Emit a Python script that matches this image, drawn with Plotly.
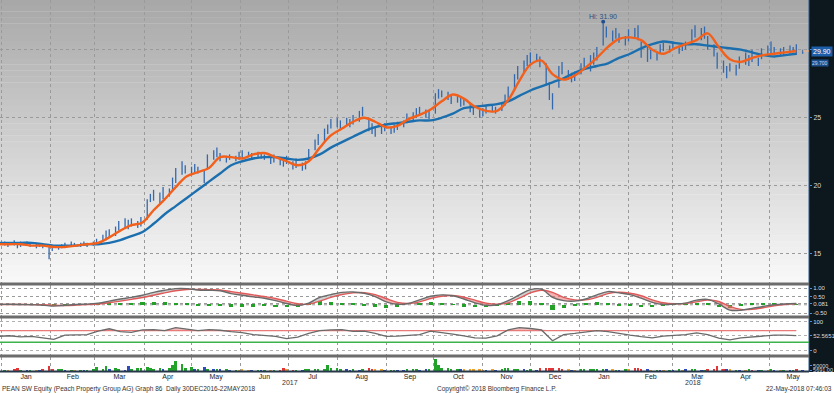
import numpy as np
import pandas as pd
import plotly.graph_objects as go

# ---------------- data ----------------
# price bars, one every second business day from 30-Dec-2016 to 22-May-2018
bar_low = [
    15.5, 15.6, 15.5, 15.6, 15.4, 15.5, 15.6, 15.5, 15.4, 15.5,
    15.4, 14.6, 15.2, 15.3, 15.4, 15.5, 15.5, 15.6, 15.5, 15.6,
    15.5, 15.6, 15.7, 15.9, 16.0, 16.2, 16.3, 16.7, 16.9, 16.8,
    17.0, 16.9, 17.0, 17.5, 18.8, 18.9, 18.7, 19.0, 19.2, 19.6,
    20.2, 20.8, 20.9, 20.8, 21.0, 20.9, 20.2, 21.2, 21.9, 22.1,
    21.8, 21.7, 21.9, 21.8, 21.9, 22.0, 22.1, 22.0, 22.1, 22.0,
    21.9, 21.6, 21.7, 21.5, 21.4, 21.6, 21.2, 21.3, 21.1, 21.2,
    21.9, 22.6, 23.0, 23.3, 23.8, 24.2, 24.3, 24.1, 24.4, 24.3,
    24.5, 24.7, 25.1, 24.0, 23.8, 23.6, 23.8, 24.0, 23.8, 23.9,
    24.1, 24.3, 24.6, 24.8, 25.0, 25.2, 25.0, 24.9, 25.3, 26.4,
    26.5, 26.3, 26.0, 26.1, 25.8, 25.9, 25.4, 25.2, 25.0, 25.1,
    25.3, 25.4, 25.3, 25.5, 25.9, 26.4, 27.0, 27.8, 28.3, 28.8,
    29.0, 29.1, 28.7, 27.4, 26.3, 25.6, 27.2, 28.2, 27.8, 27.6,
    27.7, 28.2, 28.5, 28.4, 28.9, 29.2, 30.3, 30.9, 30.6, 30.8,
    30.5, 30.3, 30.6, 30.8, 30.7, 29.4, 29.1, 29.3, 29.2, 29.7,
    29.9, 29.8, 30.0, 29.7, 29.9, 30.0, 30.5, 30.9, 30.7, 30.8,
    30.0, 29.5, 28.6, 28.3, 27.9, 28.4, 28.1, 28.6, 28.9, 28.8,
    29.1, 28.8, 29.3, 29.5, 29.6, 29.7, 29.5, 29.6, 29.7, 29.8,
    29.6, 29.7,
]
bar_high = [
    15.9, 15.9, 15.8, 16.0, 15.8, 15.9, 15.9, 15.8, 15.8, 15.7,
    15.7, 15.5, 15.6, 15.6, 15.7, 15.8, 15.9, 15.8, 15.8, 15.9,
    15.8, 15.9, 16.1, 16.4, 16.7, 16.8, 17.0, 17.4, 17.6, 17.5,
    17.6, 17.4, 17.7, 19.0, 19.4, 19.7, 19.5, 19.9, 19.8, 20.6,
    21.3, 21.8, 21.5, 21.4, 21.6, 21.4, 21.2, 22.3, 22.6, 22.8,
    22.4, 22.2, 22.3, 22.2, 22.5, 22.6, 22.5, 22.4, 22.5, 22.4,
    22.3, 22.1, 22.3, 22.0, 21.9, 22.2, 21.8, 22.0, 21.7, 21.8,
    22.7, 23.4, 23.8, 24.2, 24.5, 24.9, 25.0, 24.8, 25.0, 24.9,
    25.2, 25.5, 25.8, 25.0, 24.6, 24.3, 24.5, 24.6, 24.3, 24.5,
    24.7, 24.8, 25.3, 25.4, 25.7, 25.8, 25.6, 25.5, 26.8, 27.1,
    27.0, 26.9, 26.6, 26.7, 26.5, 26.4, 26.0, 25.8, 25.6, 25.7,
    25.9, 26.0, 25.8, 26.0, 26.7, 27.3, 28.2, 28.8, 29.2, 29.6,
    29.8, 29.7, 29.5, 29.0, 27.6, 26.8, 28.8, 29.1, 28.5, 28.3,
    28.4, 29.0, 29.4, 29.6, 29.8, 30.2, 31.9, 31.7, 31.4, 31.6,
    31.2, 31.0, 31.5, 31.6, 31.8, 30.6, 30.2, 30.0, 29.9, 30.4,
    30.5, 30.3, 30.5, 30.3, 30.4, 30.6, 31.5, 31.8, 31.6, 31.7,
    31.0, 30.4, 29.8, 29.2, 28.8, 29.0, 28.9, 29.5, 29.8, 29.6,
    30.0, 29.4, 30.1, 30.3, 30.6, 30.2, 30.1, 30.2, 30.3, 30.2,
    30.4, 30.0,
]
last_price = 29.90

# weekly (Friday) readings of the two moving averages and indicators
ma_fast = [
    15.7, 15.7, 15.7, 15.6, 15.6, 15.5, 15.5, 15.6, 15.7, 15.8,
    16.2, 16.7, 17.1, 17.3, 18.2, 19.0, 19.9, 20.7, 21.0, 21.3,
    22.1, 22.1, 22.0, 22.3, 22.4, 22.1, 21.8, 21.5, 21.8, 22.8,
    23.7, 24.2, 24.7, 25.0, 24.7, 24.3, 24.4, 24.9, 25.2, 25.6,
    26.2, 26.7, 26.4, 25.8, 25.5, 25.5, 26.3, 27.7, 28.9, 29.2,
    28.2, 27.8, 28.1, 28.7, 29.4, 30.2, 30.8, 30.9, 30.7, 30.0,
    29.7, 30.1, 30.4, 30.7, 31.2, 30.2, 29.3, 29.1, 29.4, 29.6,
    29.7, 29.8, 29.9,
]
ma_slow = [
    15.8, 15.8, 15.8, 15.8, 15.7, 15.6, 15.6, 15.6, 15.7, 15.7,
    15.8, 16.0, 16.3, 16.6, 17.2, 17.9, 18.5, 19.1, 19.7, 20.3,
    20.9, 21.5, 21.8, 22.0, 22.1, 22.1, 22.0, 21.9, 22.0, 22.3,
    22.8, 23.2, 23.6, 24.0, 24.3, 24.5, 24.6, 24.7, 24.8, 24.8,
    25.0, 25.3, 25.7, 25.8, 25.9, 26.0, 26.2, 26.6, 27.0, 27.3,
    27.6, 27.9, 28.3, 28.6, 28.8, 29.0, 29.4, 29.7, 30.1, 30.4,
    30.6, 30.5, 30.4, 30.4, 30.3, 30.2, 30.1, 30.0, 29.8, 29.6,
    29.5, 29.6, 29.7,
]
macd_line = [
    0.02, 0.03, 0.02, 0.00, -0.02, -0.08, -0.03, 0.02, 0.04, 0.10,
    0.22, 0.35, 0.45, 0.58, 0.75, 0.88, 0.98, 0.98, 0.90, 0.88,
    0.85, 0.68, 0.58, 0.48, 0.40, 0.25, 0.08, -0.05, 0.10, 0.45,
    0.62, 0.75, 0.78, 0.70, 0.50, 0.18, 0.03, 0.08, 0.30, 0.52,
    0.60, 0.55, 0.35, 0.12, -0.03, 0.00, 0.25, 0.60, 0.92, 0.95,
    0.45, 0.25, 0.22, 0.35, 0.60, 0.80, 0.72, 0.62, 0.40, 0.15,
    0.02, 0.05, 0.10, 0.28, 0.33, 0.05, -0.32, -0.33, -0.22, -0.10,
    0.00, 0.05, 0.081,
]
macd_signal = [
    0.02, 0.02, 0.02, 0.01, 0.00, -0.03, -0.04, -0.02, 0.01, 0.05,
    0.12, 0.22, 0.33, 0.44, 0.58, 0.72, 0.85, 0.93, 0.93, 0.92,
    0.90, 0.80, 0.70, 0.60, 0.50, 0.38, 0.22, 0.06, 0.04, 0.22,
    0.45, 0.62, 0.72, 0.74, 0.62, 0.38, 0.15, 0.08, 0.18, 0.38,
    0.52, 0.56, 0.46, 0.28, 0.10, 0.03, 0.12, 0.40, 0.72, 0.88,
    0.75, 0.45, 0.30, 0.30, 0.45, 0.68, 0.76, 0.70, 0.55, 0.30,
    0.12, 0.06, 0.08, 0.18, 0.28, 0.20, -0.10, -0.28, -0.28, -0.18,
    -0.06, 0.02, 0.06,
]
rsi_line = [
    50, 52, 48, 50, 45, 40, 54, 55, 56, 68,
    76, 66, 64, 72, 73, 70, 80, 75, 70, 73,
    71, 66, 63, 56, 53, 50, 42, 47, 60, 70,
    72, 73, 67, 68, 60, 50, 51, 54, 56, 68,
    64, 58, 52, 45, 44, 52, 72, 80, 77, 72,
    35, 56, 60, 66, 70, 66, 59, 54, 49, 45,
    51, 54, 56, 62, 56, 44, 38, 45, 48, 52,
    54, 54, 52.5651,
]
# volume in thousands of shares (same dates as the price bars)
volume_k = [
    6, 8, 5, 10, 28, 7, 5, 9, 6, 8,
    12, 50, 15, 14, 18, 8, 6, 7, 9, 5,
    8, 12, 38, 14, 46, 10, 28, 12, 9, 44,
    20, 30, 25, 35, 30, 22, 33, 18, 28, 60,
    95, 70, 25, 38, 20, 15, 40, 22, 18, 15,
    12, 10, 9, 8, 6, 12, 8, 6, 7, 5,
    6, 8, 6, 9, 28, 10, 6, 8, 7, 10,
    14, 18, 22, 12, 55, 30, 25, 22, 10, 8,
    12, 9, 15, 28, 12, 18, 10, 8, 6, 9,
    7, 8, 14, 16, 12, 8, 10, 18, 120, 55,
    25, 30, 22, 18, 20, 12, 16, 10, 14, 9,
    8, 10, 6, 12, 28, 26, 18, 12, 10, 8,
    12, 8, 28, 30, 26, 32, 25, 14, 10, 8,
    9, 10, 16, 18, 12, 20, 15, 12, 10, 9,
    8, 12, 10, 26, 28, 14, 10, 9, 8, 7,
    6, 9, 8, 12, 7, 10, 14, 12, 9, 8,
    10, 15, 48, 14, 12, 10, 8, 9, 7, 10,
    8, 6, 9, 7, 11, 8, 6, 9, 7, 8,
    10, 5.691,
]
volume_kind = (
    "bgorrgbgob" "rrrggbgogb" "gggggbggbb" "gggggggbgg" "ggggbgbgbg"
    "bgbgooobgb" "gogrrorgbg" "ggggggggbb" "gbgrroobgg" "bbgggbbggg"
    "ggggbooooo" "bobgggggbg" "gbrrrrrrob" "oggggggbog" "bgorrrbogb"
    "ogbgobggbg" "rrrrbogbog" "rbgogbogbg" "rb"
)
price_ticks = [15, 20, 25, 30]
macd_ticks = [1.0, 0.5, -0.5]
rsi_levels = [70, 30]
volume_tick = 50000
month_labels_fmt = "%b"
years = ["2017", "2018"]
footer_left = "PEAN SW Equity (Peach Property Group AG) Graph 86  Daily 30DEC2016-22MAY2018"
footer_mid = "Copyright\u00a9 2018 Bloomberg Finance L.P."
footer_right = "22-May-2018 07:46:03"

# ---------------- dates ----------------
bar_dates = pd.bdate_range("2016-12-30", "2018-05-22")[::2][:len(bar_low)]
week_dates = pd.date_range("2016-12-30", periods=len(ma_fast), freq="W-FRI")
x_range = ["2016-12-31", "2018-05-26"]
FONT = "Liberation Sans, Arial, sans-serif"

W, H = 834, 393
XD = 809 / W           # right end of the chart area (axis strip beyond)
H_PLOT = 371.0         # plot area height (bottom margin below)

def py(px):
    return 1 - px / H_PLOT

fig = go.Figure()

# ---------------- main panel ----------------
bx, by = [], []
for d, lo, hi in zip(bar_dates, bar_low, bar_high):
    bx += [d, d, None]
    by += [lo, hi, None]
fig.add_trace(go.Scatter(x=bx, y=by, mode="lines", line=dict(color="#3469ad", width=1.3),
                         xaxis="x", yaxis="y", hoverinfo="skip"))
fig.add_trace(go.Scatter(x=week_dates, y=ma_slow, mode="lines", line=dict(color="#1c6fae", width=2.4, shape="spline"),
                         xaxis="x", yaxis="y", hoverinfo="skip"))
fig.add_trace(go.Scatter(x=week_dates, y=ma_fast, mode="lines", line=dict(color="#f2601c", width=2.4, shape="spline"),
                         xaxis="x", yaxis="y", hoverinfo="skip"))
hi_idx = int(np.argmax(bar_high))
hi_val = bar_high[hi_idx]
fig.add_trace(go.Scatter(x=[bar_dates[hi_idx]], y=[hi_val + 0.15], mode="markers",
                         marker=dict(color="#1f4f8f", size=4), xaxis="x", yaxis="y", hoverinfo="skip"))

# ---------------- MACD panel ----------------
macd = np.array(macd_line)
sig = np.array(macd_signal)
upper = np.maximum(macd, sig)
fig.add_trace(go.Scatter(x=week_dates, y=macd, mode="lines", line=dict(width=0, shape="spline"),
                         xaxis="x2", yaxis="y2", hoverinfo="skip"))
fig.add_trace(go.Scatter(x=week_dates, y=upper, mode="lines", line=dict(width=0, shape="spline"), fill="tonexty",
                         fillcolor="rgba(236,110,110,0.55)", xaxis="x2", yaxis="y2", hoverinfo="skip"))
fig.add_trace(go.Scatter(x=week_dates, y=sig, mode="lines", line=dict(width=0, shape="spline"),
                         xaxis="x2", yaxis="y2", hoverinfo="skip"))
fig.add_trace(go.Scatter(x=week_dates, y=upper, mode="lines", line=dict(width=0, shape="spline"), fill="tonexty",
                         fillcolor="rgba(170,170,170,0.55)", xaxis="x2", yaxis="y2", hoverinfo="skip"))
fig.add_trace(go.Bar(x=week_dates, y=macd - sig, marker=dict(color="#23a028", line=dict(width=0)),
                     width=2.6 * 86400000, xaxis="x2", yaxis="y2", hoverinfo="skip"))
fig.add_trace(go.Scatter(x=week_dates, y=sig, mode="lines", line=dict(color="#e05a5a", width=1.4, shape="spline"),
                         xaxis="x2", yaxis="y2", hoverinfo="skip"))
fig.add_trace(go.Scatter(x=week_dates, y=macd, mode="lines", line=dict(color="#6a6a6a", width=1.4, shape="spline"),
                         xaxis="x2", yaxis="y2", hoverinfo="skip"))

# ---------------- RSI panel ----------------
rsi = np.array(rsi_line, dtype=float)
fig.add_trace(go.Scatter(x=week_dates, y=np.full(len(rsi), rsi_levels[0]), mode="lines",
                         line=dict(color="#e87a7a", width=1.2), xaxis="x3", yaxis="y3", hoverinfo="skip"))
fig.add_trace(go.Scatter(x=week_dates, y=np.maximum(rsi, rsi_levels[0]), mode="lines", line=dict(width=0),
                         fill="tonexty", fillcolor="rgba(236,120,120,0.5)", xaxis="x3", yaxis="y3", hoverinfo="skip"))
fig.add_trace(go.Scatter(x=week_dates, y=rsi, mode="lines", line=dict(color="#6a6a6a", width=1.3),
                         xaxis="x3", yaxis="y3", hoverinfo="skip"))

# ---------------- volume panel ----------------
vcol = {"g": "#21a32a", "r": "#e23636", "b": "#2d49c4", "o": "#f2a12a"}
fig.add_trace(go.Bar(x=bar_dates, y=[v * 1000 for v in volume_k],
                     marker=dict(color=[vcol[c] for c in volume_kind], line=dict(width=0)),
                     width=1.6 * 86400000, xaxis="x4", yaxis="y4", hoverinfo="skip"))

# ---------------- layout ----------------
dom_main = [py(283), 1]
dom_macd = [py(316), py(285)]
dom_rsi = [py(355), py(318)]
dom_vol = [0, py(357)]

grid = dict(showgrid=True, gridcolor="#9a9a9a", griddash="dot", gridwidth=1)
xcommon = dict(type="date", range=x_range, dtick="M1", tick0="2017-01-01", ticklabelmode="period",
               tickformat=month_labels_fmt, zeroline=False, showline=False, ticks="", fixedrange=True,
               domain=[0, XD], **grid)

def yax(fontsize=7, **kw):
    d = dict(side="right", zeroline=False, showline=False, ticks="outside", ticklen=2, tickcolor="#4c8fd6",
             tickfont=dict(color="#dcdcdc", size=fontsize, family=FONT), fixedrange=True, automargin=False)
    d.update(kw)
    return d

shapes = []
# gradient background of main panel
N = 48
top, bot = (168, 168, 168), (248, 248, 248)
for i in range(N):
    t = i / (N - 1)
    c = tuple(int(round(top[k] + (bot[k] - top[k]) * t)) for k in range(3))
    y1 = dom_main[1] - (dom_main[1] - dom_main[0]) * i / N
    y0 = dom_main[1] - (dom_main[1] - dom_main[0]) * (i + 1) / N
    shapes.append(dict(type="rect", xref="paper", yref="paper", x0=0, x1=XD, y0=y0, y1=y1 + 0.001,
                       fillcolor="rgb(%d,%d,%d)" % c, line=dict(width=0), layer="below"))
# right dark axis strip
shapes.append(dict(type="rect", xref="paper", yref="paper", x0=XD, x1=1, y0=py(372), y1=1,
                   fillcolor="#0d171e", line=dict(width=0), layer="below"))
shapes.append(dict(type="line", xref="paper", yref="paper", x0=XD, x1=XD, y0=py(372), y1=1,
                   line=dict(color="#2c5b8a", width=1), layer="above"))
# panel separators
for ypx in (284, 317, 356):
    shapes.append(dict(type="line", xref="paper", yref="paper", x0=0, x1=XD, y0=py(ypx), y1=py(ypx),
                       line=dict(color="#6c6c6c", width=3), layer="above"))
shapes.append(dict(type="line", xref="paper", yref="paper", x0=0, x1=XD, y0=py(371.5), y1=py(371.5),
                   line=dict(color="#26384a", width=2), layer="above"))
# MACD zero line
shapes.append(dict(type="line", xref="paper", yref="y2", x0=0, x1=XD, y0=0, y1=0,
                   line=dict(color="#9a9a9a", width=1, dash="dot"), layer="below"))
# RSI 30 line
shapes.append(dict(type="line", xref="paper", yref="y3", x0=0, x1=XD, y0=rsi_levels[1], y1=rsi_levels[1],
                   line=dict(color="#3cb44b", width=1.5), layer="above"))
# last price line
shapes.append(dict(type="line", xref="x", yref="y", x0=bar_dates[-1], x1=x_range[1], y0=last_price, y1=last_price,
                   line=dict(color="#f7b07a", width=1), layer="above"))

annotations = [
    dict(x=bar_dates[hi_idx], y=hi_val + 0.55, xref="x", yref="y", text="Hi: %.2f" % hi_val, showarrow=False,
         font=dict(size=7, color="#2a4f80", family=FONT), xanchor="center", yanchor="middle"),
    dict(x=XD, y=ma_slow[-1], xref="paper", yref="y", xanchor="left", yanchor="middle", xshift=2, yshift=-9,
         text="%.3f" % ma_slow[-1], showarrow=False, bgcolor="#1b4f8c",
         font=dict(size=5, color="#c8d8f0", family=FONT), borderpad=0),
    dict(x=XD, y=last_price, xref="paper", yref="y", xanchor="left", yanchor="middle", xshift=2,
         text="%.2f" % last_price, showarrow=False, bgcolor="#1d5ea8",
         font=dict(size=7, color="white", family=FONT), borderpad=1),
    dict(x="2017-07-02", y=py(383), xref="x4", yref="paper", text=years[0], showarrow=False,
         xanchor="center", yanchor="middle", font=dict(size=7, color="#333", family=FONT)),
    dict(x="2018-03-14", y=py(383), xref="x4", yref="paper", text=years[1], showarrow=False,
         xanchor="center", yanchor="middle", font=dict(size=7, color="#333", family=FONT)),
    dict(x=0, y=py(389), xref="paper", yref="paper", xanchor="left", yanchor="middle", text=footer_left,
         showarrow=False, font=dict(size=6.5, color="#333", family=FONT)),
    dict(x=497 / W, y=py(389), xref="paper", yref="paper", xanchor="center", yanchor="middle", text=footer_mid,
         showarrow=False, font=dict(size=6.5, color="#333", family=FONT)),
    dict(x=1, y=py(389), xref="paper", yref="paper", xanchor="right", yanchor="middle", text=footer_right,
         showarrow=False, font=dict(size=6.5, color="#333", family=FONT)),
]

# the tick label hidden under the last-price box (as in the reference) is left blank
price_ticktext = ["" if abs(v - last_price) < 1 else str(v) for v in price_ticks]

fig.update_layout(
    width=W, height=H,
    margin=dict(l=0, r=0, t=0, b=H - H_PLOT, pad=0),
    paper_bgcolor="white", plot_bgcolor="rgba(0,0,0,0)",
    showlegend=False, bargap=0,
    font=dict(family=FONT, size=7, color="#333"),
    xaxis=dict(anchor="y", showticklabels=False, **xcommon),
    xaxis2=dict(anchor="y2", matches="x", showticklabels=False, **xcommon),
    xaxis3=dict(anchor="y3", matches="x", showticklabels=False, **xcommon),
    xaxis4=dict(anchor="y4", matches="x", showticklabels=True,
                tickfont=dict(size=7, color="#222", family=FONT), **xcommon),
    yaxis=yax(domain=dom_main, anchor="x", range=[12.85, 33.65], tickvals=price_ticks,
              ticktext=price_ticktext, **grid),
    yaxis2=yax(fontsize=6, domain=dom_macd, anchor="x2", range=[-0.68, 1.2],
               tickvals=macd_ticks + [macd_line[-1]],
               ticktext=["%.2f" % v for v in macd_ticks] + ["%.3f" % macd_line[-1]], **grid),
    yaxis3=yax(fontsize=6, domain=dom_rsi, anchor="x3", range=[-14, 113], tickvals=[100, rsi_line[-1], 0],
               ticktext=["100", "%.4f" % rsi_line[-1], "0"], showgrid=True, gridcolor="#b0b0b0",
               griddash="dot"),
    yaxis4=yax(fontsize=5.5, domain=dom_vol, anchor="x4", range=[0, 135000],
               tickvals=[volume_tick, volume_k[-1] * 1000],
               ticktext=[str(volume_tick), "%.2f" % (volume_k[-1] * 1000)], showgrid=False),
    shapes=shapes,
    annotations=annotations,
)

# the page's default 8px body margin would shift the chart; remove it
fig.write_html("out.html", config={"displayModeBar": False},
               post_script="document.body.style.margin='0';")
